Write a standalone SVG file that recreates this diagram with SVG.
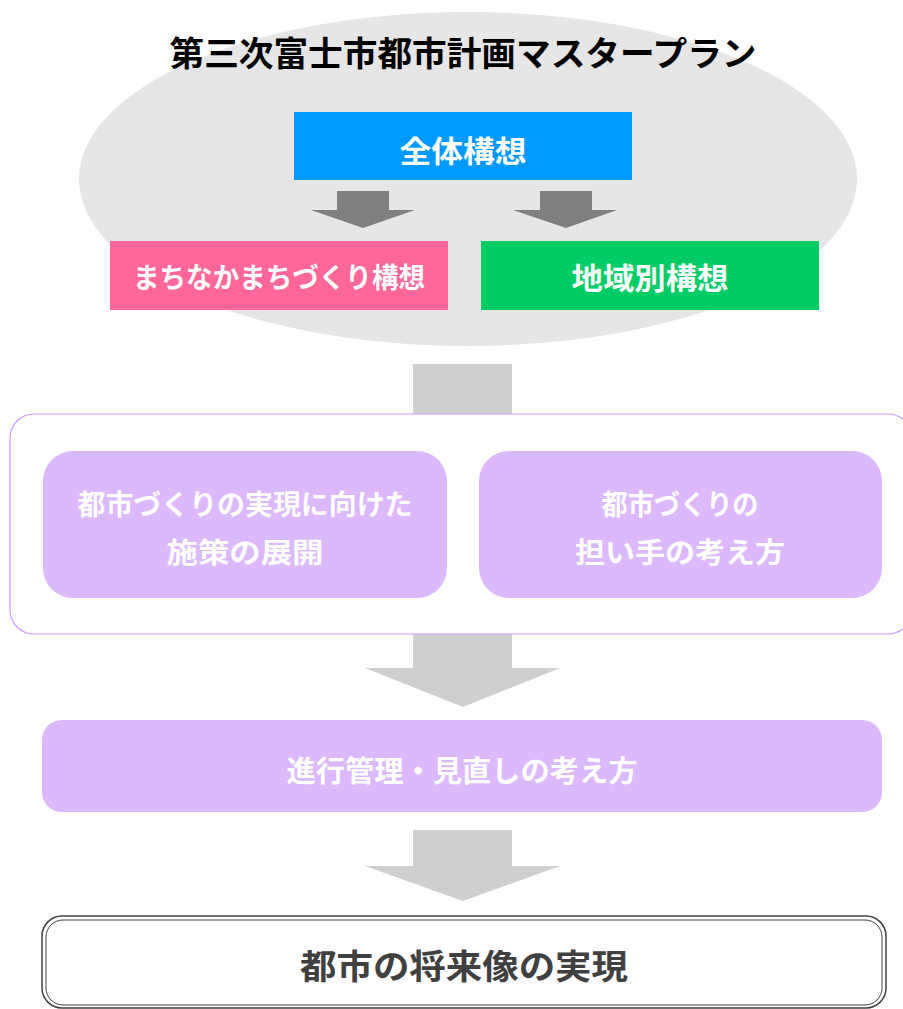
<svg xmlns="http://www.w3.org/2000/svg" width="903" height="1009" viewBox="0 0 903 1009">
<style>
text{font-family:"Noto Sans CJK JP","Noto Sans CJK SC",sans-serif;font-weight:700;text-anchor:middle;dominant-baseline:central}
.w{fill:#FFFFFF}
.lav{fill:#DCB9FC}
.darr{fill:#7F7F7F}
.larr{fill:#D0CECE}
</style>
<rect width="903" height="1009" fill="#FFFFFF"/>
<g id="plan">
<ellipse cx="468" cy="179" rx="389" ry="167" fill="#E6E6E6"/>
<text x="463" y="51" font-size="34" textLength="587" lengthAdjust="spacingAndGlyphs" fill="#000000">第三次富士市都市計画マスタープラン</text>
</g>
<g id="connectors">
<polygon class="darr" points="337,191 389,191 389,210 415,210 363,228 311,210 337,210"/>
<polygon class="darr" points="540,191 592,191 592,210 617,210 566,228 513,210 540,210"/>
<rect class="larr" x="413" y="364" width="99" height="50"/>
<polygon class="larr" points="413,634 512,634 512,668 560,668 463,707 365,668 413,668"/>
<polygon class="larr" points="413,830 512,830 512,866 560,866 463,901 365,866 413,866"/>
</g>
<g id="zentai">
<rect x="294" y="112" width="338" height="68" fill="#0099FF"/>
<text class="w" x="463" y="149" font-size="30" textLength="127" lengthAdjust="spacingAndGlyphs">全体構想</text>
</g>
<g id="machinaka">
<rect x="110" y="241" width="338" height="69" fill="#FF6699"/>
<text class="w" x="279" y="276" font-size="28" textLength="292" lengthAdjust="spacingAndGlyphs">まちなかまちづくり構想</text>
</g>
<g id="chiiki">
<rect x="481" y="241" width="338" height="69" fill="#00CC66"/>
<text class="w" x="650" y="276" font-size="30" textLength="157" lengthAdjust="spacingAndGlyphs">地域別構想</text>
</g>
<g id="container">
<rect x="10" y="414" width="902" height="220" rx="24" fill="#FFFFFF" stroke="#CC99FF" stroke-width="1.2"/>
</g>
<g id="shisaku">
<rect class="lav" x="43" y="451" width="404" height="147" rx="30"/>
<text class="w" x="245" y="503" font-size="28" textLength="335" lengthAdjust="spacingAndGlyphs">都市づくりの実現に向けた</text>
<text class="w" x="245" y="551" font-size="28" textLength="157" lengthAdjust="spacingAndGlyphs">施策の展開</text>
</g>
<g id="ninaite">
<rect class="lav" x="479" y="451" width="403" height="147" rx="30"/>
<text class="w" x="680" y="503" font-size="28" textLength="157" lengthAdjust="spacingAndGlyphs">都市づくりの</text>
<text class="w" x="680" y="551" font-size="28" textLength="210" lengthAdjust="spacingAndGlyphs">担い手の考え方</text>
</g>
<g id="shinko">
<rect class="lav" x="42" y="720" width="840" height="92" rx="20"/>
<text class="w" x="462" y="769" font-size="29" textLength="351" lengthAdjust="spacingAndGlyphs">進行管理・見直しの考え方</text>
</g>
<g id="shorai">
<rect x="42" y="916" width="844" height="92" rx="20" fill="#FFFFFF" stroke="#404040" stroke-width="1.5"/>
<rect x="46" y="920" width="836" height="85" rx="17" fill="none" stroke="#404040" stroke-width="1"/>
<text x="464" y="964" font-size="34" textLength="328" lengthAdjust="spacingAndGlyphs" fill="#404040">都市の将来像の実現</text>
</g>
</svg>
